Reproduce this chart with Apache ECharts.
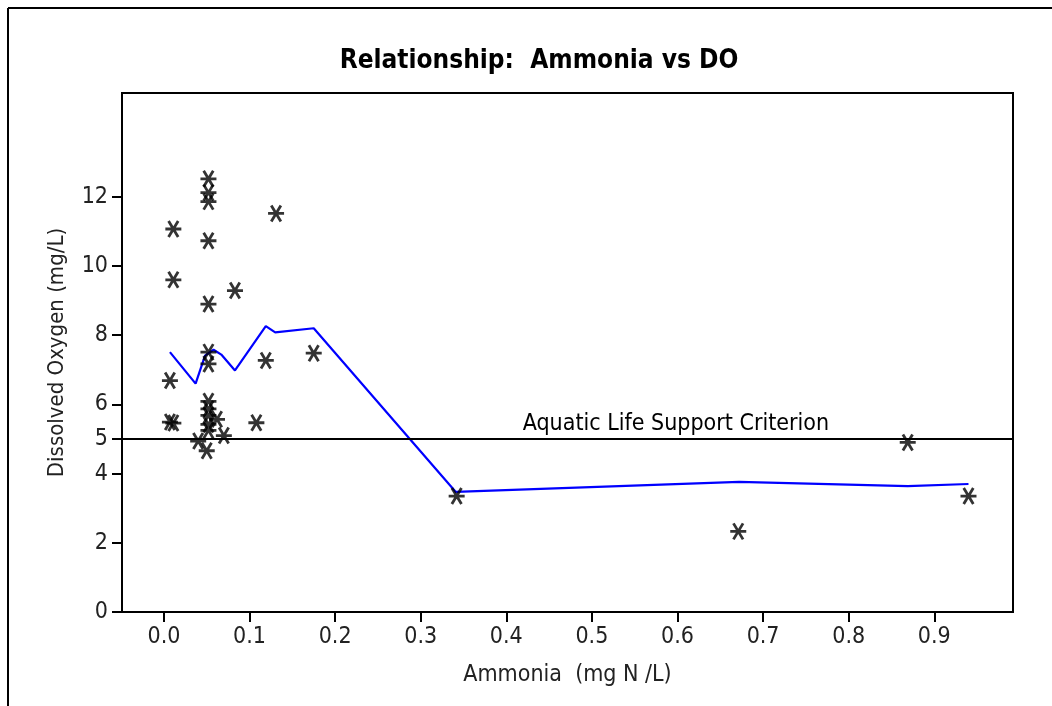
<!DOCTYPE html>
<html>
<head>
<meta charset="utf-8">
<script src="https://cdn.jsdelivr.net/npm/echarts@6/dist/echarts.min.js"></script>
<style>html,body{margin:0;padding:0;background:#fff;}#c{width:1052px;height:706px;}</style>
</head>
<body>
<div id="c"></div>
<script>
// Observed samples: ammonia (mg N/L) and dissolved oxygen (mg/L)
const ammonia = [0.052,0.052,0.052,0.131,0.011,0.052,0.011,0.083,0.052,0.007,0.052,0.052,0.119,0.175,0.052,0.052,0.052,0.062,0.007,0.011,0.052,0.052,0.108,0.070,0.040,0.050,0.342,0.671,0.869,0.940];
const dissolvedO2 = [12.52,12.12,11.86,11.52,11.07,10.73,9.60,9.29,8.90,6.69,7.51,7.17,7.27,7.48,6.09,5.87,5.68,5.57,5.49,5.46,5.42,5.25,5.47,5.10,4.94,4.66,3.35,2.33,4.90,3.35];
// Blue trend line vertices
const trendX = [0.007,0.037,0.048,0.058,0.067,0.083,0.119,0.130,0.175,0.341,0.672,0.869,0.940];
const trendY = [7.51,6.60,7.41,7.58,7.44,6.98,8.26,8.08,8.20,3.47,3.76,3.64,3.70];
const xTicks = [0,0.1,0.2,0.3,0.4,0.5,0.6,0.7,0.8,0.9];
const yTicks = [0,2,4,5,6,8,10,12];
const criterion = 5;
const criterionLabel = 'Aquatic Life Support Criterion';

const FONT = "'DejaVu Sans Condensed','Liberation Sans Narrow','DejaVu Sans',sans-serif";
const chart = echarts.init(document.getElementById('c'), null, {renderer:'canvas'});
const pts = ammonia.map((x,i)=>[x, dissolvedO2[i]]);
const trend = trendX.map((x,i)=>[x, trendY[i]]);
chart.setOption({
  animation:false,
  backgroundColor:'#fff',
  title:{text:'Relationship:  Ammonia vs DO', left:534, textAlign:'center', top:43,
    textStyle:{fontFamily:FONT, fontWeight:'bold', fontSize:26, color:'#000'}},
  graphic:[
    {type:'line', shape:{x1:8,y1:8,x2:1052,y2:8}, style:{stroke:'#000',lineWidth:2}},
    {type:'line', shape:{x1:8,y1:8,x2:8,y2:706}, style:{stroke:'#000',lineWidth:2}}
  ],
  grid:{left:122, right:39, top:93, bottom:94, show:true, borderColor:'#000', borderWidth:2, backgroundColor:'transparent'},
  xAxis:{type:'value', min:-0.049, max:0.992,
    axisLine:{show:true, onZero:false, lineStyle:{color:'#000', width:2}},
    axisTick:{show:true, customValues:xTicks, length:10, lineStyle:{color:'#000', width:2}},
    axisLabel:{customValues:xTicks, formatter:v=>Number(v).toFixed(1), fontFamily:FONT, fontSize:23, color:'#222', margin:14},
    splitLine:{show:false},
    name:'Ammonia  (mg N /L)', nameLocation:'middle', nameGap:52,
    nameTextStyle:{fontFamily:FONT, fontSize:23, color:'#222'}},
  yAxis:{type:'value', min:0, max:15,
    axisLine:{show:true, onZero:false, lineStyle:{color:'#000', width:2}},
    axisTick:{show:true, customValues:yTicks, length:10, lineStyle:{color:'#000', width:2}},
    axisLabel:{customValues:yTicks, fontFamily:FONT, fontSize:23, color:'#222', margin:14},
    splitLine:{show:false},
    name:'Dissolved Oxygen (mg/L)', nameLocation:'middle', nameGap:54,
    nameTextStyle:{fontFamily:FONT, fontSize:22, color:'#222'}},
  series:[
    {type:'line', data:trend, showSymbol:false, symbol:'none', lineStyle:{color:'#0000ff', width:2.2}, z:2},
    {type:'scatter', data:pts, symbol:'path://M0,5L10,5M2,0L8,10M8,0L2,10', symbolSize:16,
      itemStyle:{color:'transparent', borderColor:'#000', borderWidth:2.8}, z:3,
      markLine:{silent:true, symbol:'none', data:[{yAxis:criterion}],
        lineStyle:{color:'#000', width:2, type:'solid'},
        label:{show:true, formatter:criterionLabel, position:'insideEndTop', distance:[184,3],
          fontFamily:FONT, fontSize:23, color:'#000'}}}
  ]
});
</script>
</body>
</html>
